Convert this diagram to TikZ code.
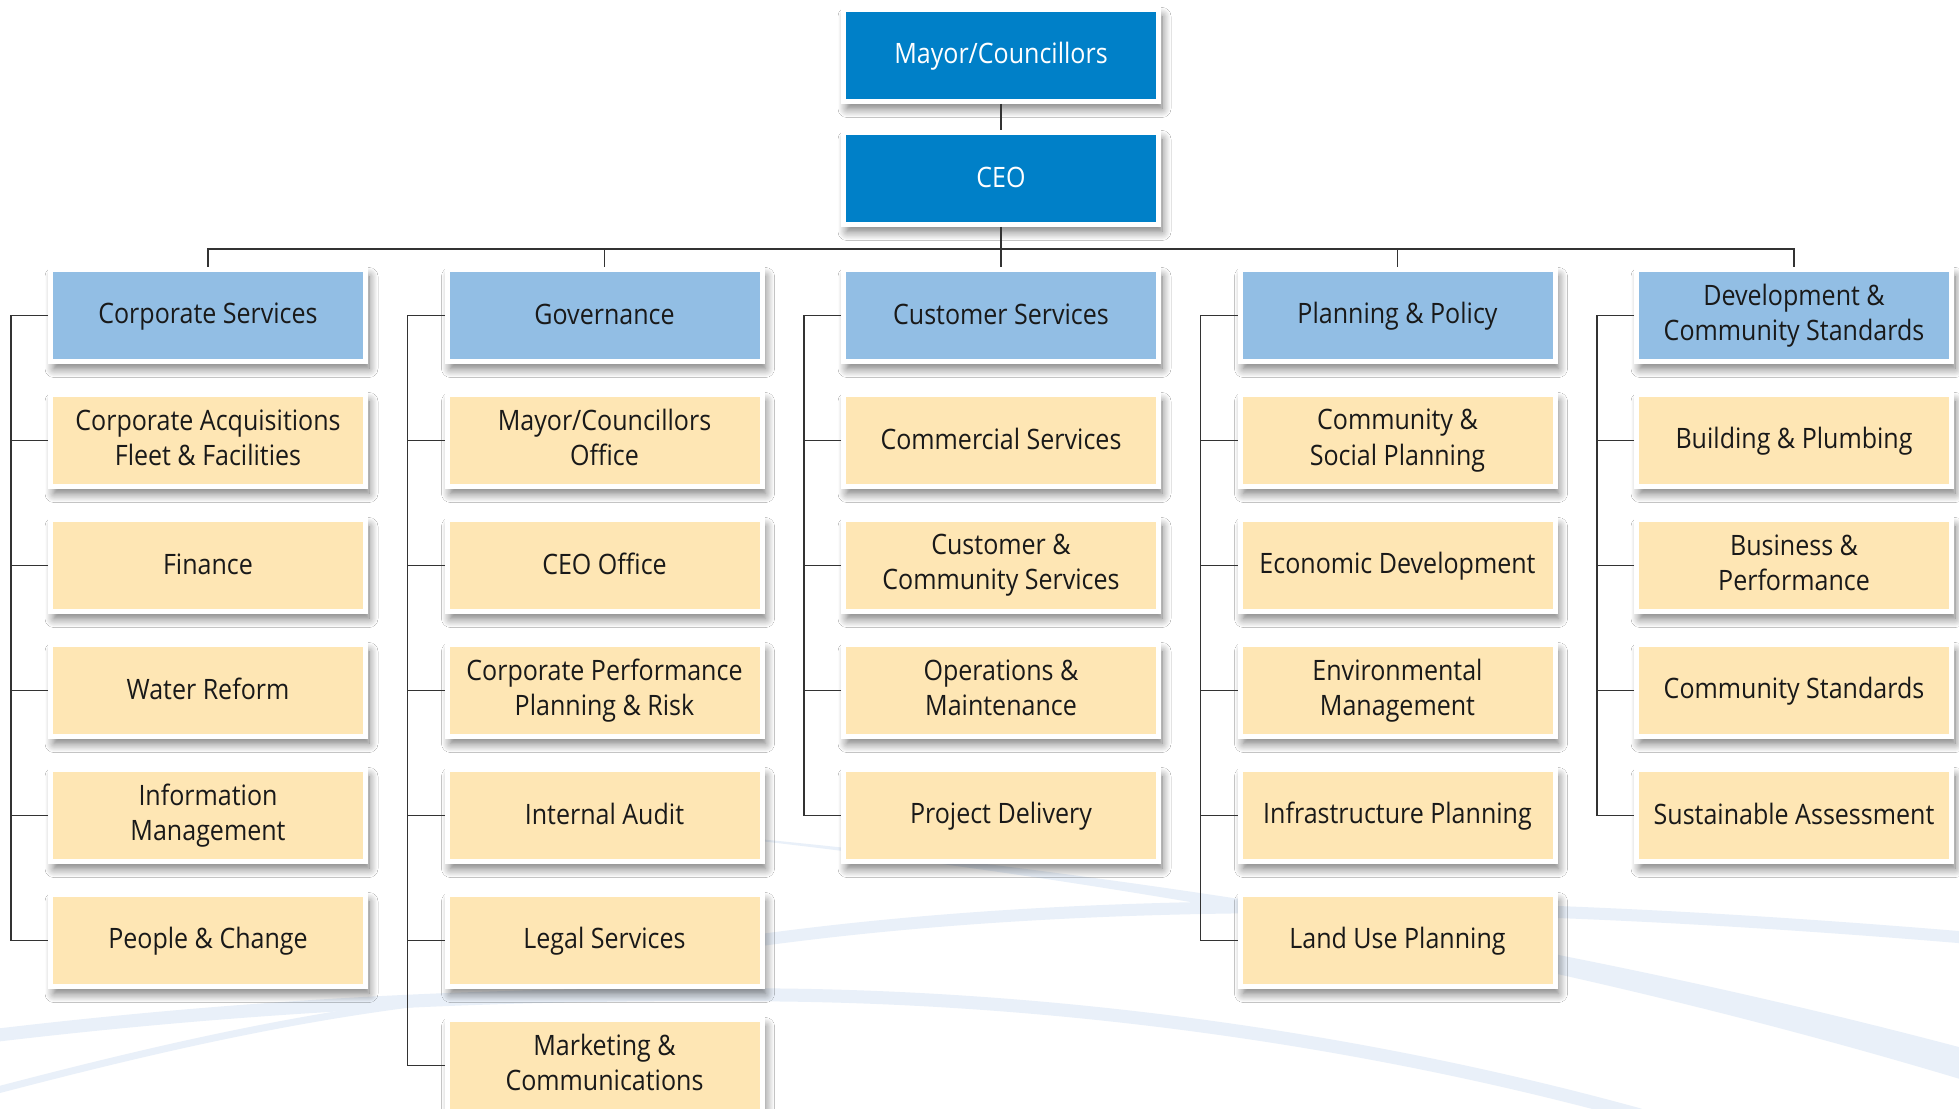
\documentclass[tikz,border=0pt]{standalone}
\usepackage{fontspec}
\setmainfont[FakeStretch=0.89]{Open Sans}
\usepackage{tikz}
\usetikzlibrary{positioning, shadows, shadows.blur}
\definecolor{chiefblue}{RGB}{0,128,200}
\definecolor{headblue}{RGB}{146,190,228}
\definecolor{unitcream}{RGB}{254,230,180}
\definecolor{swooshblue}{RGB}{233,240,249}
\newcommand{\boxstrut}{\rule[-1.6pt]{0pt}{8.2pt}}
\tikzstyle{box}   = [rectangle, draw=white, line width=0.05cm,
                     minimum width=3.15cm, minimum height=0.92cm,
                     align=center, text=black!90,
                     font=\fontsize{8}{10}\selectfont,
                     execute at begin node=\boxstrut, execute at end node=\boxstrut,
                     blur shadow={shadow xshift=0.035cm, shadow yshift=-0.07cm,
                                  shadow blur radius=0.09cm, shadow blur steps=12,
                                  shadow opacity=55}]
\tikzstyle{chief} = [box, fill=chiefblue, text=white]
\tikzstyle{head}  = [box, fill=headblue]
\tikzstyle{unit}  = [box, fill=unitcream]
\tikzstyle{link}  = [draw=black!80, line width=0.4pt]

\begin{document}
\begin{tikzpicture}[node distance=0.28cm]
  \useasboundingbox (0,0) rectangle (19.59,-11.09);
  \fill[white] (0,0) rectangle (19.59,-11.09);

  % pale swooshes behind the chart
  \fill[swooshblue] (6.6,-8.30) .. controls (11,-8.68) and (15.5,-9.38) .. (19.7,-10.50)
        -- (19.7,-10.82) .. controls (15.5,-9.55) and (11,-8.76) .. (6.6,-8.30) -- cycle;
  \draw[swooshblue, line width=0.12cm] (6.8,-9.52) .. controls (10,-9.0) and (14,-8.9) .. (19.7,-9.38);
  \draw[swooshblue, line width=0.13cm] (-0.1,-10.36) .. controls (2.5,-10.05) and (5,-9.92) .. (7.8,-9.95)
        .. controls (10.5,-9.98) and (13.5,-10.35) .. (16.4,-11.15);
  \draw[swooshblue, line width=0.07cm] (-0.1,-10.92) .. controls (1.5,-10.5) and (3,-10.15) .. (4.6,-9.98);

  \node[chief] (mayor) at (10.01,-0.555) {Mayor/Councillors};
  \node[chief, below=0.26cm of mayor] (ceo) {CEO};

  \node[head, below=0.4cm of ceo]   (cust) {Customer Services};
  \node[head, left=0.765cm of cust]  (gov)  {Governance};
  \node[head, left=0.765cm of gov]   (corp) {Corporate Services};
  \node[head, right=0.765cm of cust] (plan) {Planning \& Policy};
  \node[head, right=0.765cm of plan] (dev)  {Development \&\\Community Standards};

  \node[unit, below=of corp]  (acq)    {Corporate Acquisitions\\Fleet \& Facilities};
  \node[unit, below=of acq]   (fin)    {Finance};
  \node[unit, below=of fin]   (water)  {Water Reform};
  \node[unit, below=of water] (info)   {Information\\Management};
  \node[unit, below=of info]  (people) {People \& Change};

  \node[unit, below=of gov]    (mcoff)  {Mayor/Councillors\\Office};
  \node[unit, below=of mcoff]  (ceooff) {CEO Office};
  \node[unit, below=of ceooff] (perf)   {Corporate Performance\\Planning \& Risk};
  \node[unit, below=of perf]   (audit)  {Internal Audit};
  \node[unit, below=of audit]  (legal)  {Legal Services};
  \node[unit, below=of legal]  (mktg)   {Marketing \&\\Communications};

  \node[unit, below=of cust]   (comm)   {Commercial Services};
  \node[unit, below=of comm]   (custcom){Customer \&\\Community Services};
  \node[unit, below=of custcom](ops)    {Operations \&\\Maintenance};
  \node[unit, below=of ops]    (proj)   {Project Delivery};

  \node[unit, below=of plan]   (social) {Community \&\\Social Planning};
  \node[unit, below=of social] (econ)   {Economic Development};
  \node[unit, below=of econ]   (env)    {Environmental\\Management};
  \node[unit, below=of env]    (infra)  {Infrastructure Planning};
  \node[unit, below=of infra]  (land)   {Land Use Planning};

  \node[unit, below=of dev]    (build)  {Building \& Plumbing};
  \node[unit, below=of build]  (busperf){Business \&\\Performance};
  \node[unit, below=of busperf](cstd)   {Community Standards};
  \node[unit, below=of cstd]   (sust)   {Sustainable Assessment};

  % reporting lines
  \draw[link] (mayor) -- (ceo);
  \draw[link] (ceo) -- (cust);
  \draw[link] (corp.north) -- ++(0,0.18) -| (dev.north);
  \draw[link] (gov.north)  -- ++(0,0.18);
  \draw[link] (plan.north) -- ++(0,0.18);

  % column brackets
  \draw[link] (corp.west) -- ++(-0.37,0) |- (people.west);
  \draw[link] (acq.west)   -- ++(-0.37,0);
  \draw[link] (fin.west)   -- ++(-0.37,0);
  \draw[link] (water.west) -- ++(-0.37,0);
  \draw[link] (info.west)  -- ++(-0.37,0);

  \draw[link] (gov.west) -- ++(-0.37,0) |- (mktg.west);
  \draw[link] (mcoff.west)  -- ++(-0.37,0);
  \draw[link] (ceooff.west) -- ++(-0.37,0);
  \draw[link] (perf.west)   -- ++(-0.37,0);
  \draw[link] (audit.west)  -- ++(-0.37,0);
  \draw[link] (legal.west)  -- ++(-0.37,0);

  \draw[link] (cust.west) -- ++(-0.37,0) |- (proj.west);
  \draw[link] (comm.west)    -- ++(-0.37,0);
  \draw[link] (custcom.west) -- ++(-0.37,0);
  \draw[link] (ops.west)     -- ++(-0.37,0);

  \draw[link] (plan.west) -- ++(-0.37,0) |- (land.west);
  \draw[link] (social.west) -- ++(-0.37,0);
  \draw[link] (econ.west)   -- ++(-0.37,0);
  \draw[link] (env.west)    -- ++(-0.37,0);
  \draw[link] (infra.west)  -- ++(-0.37,0);

  \draw[link] (dev.west) -- ++(-0.37,0) |- (sust.west);
  \draw[link] (build.west)   -- ++(-0.37,0);
  \draw[link] (busperf.west) -- ++(-0.37,0);
  \draw[link] (cstd.west)    -- ++(-0.37,0);
\end{tikzpicture}
\end{document}
